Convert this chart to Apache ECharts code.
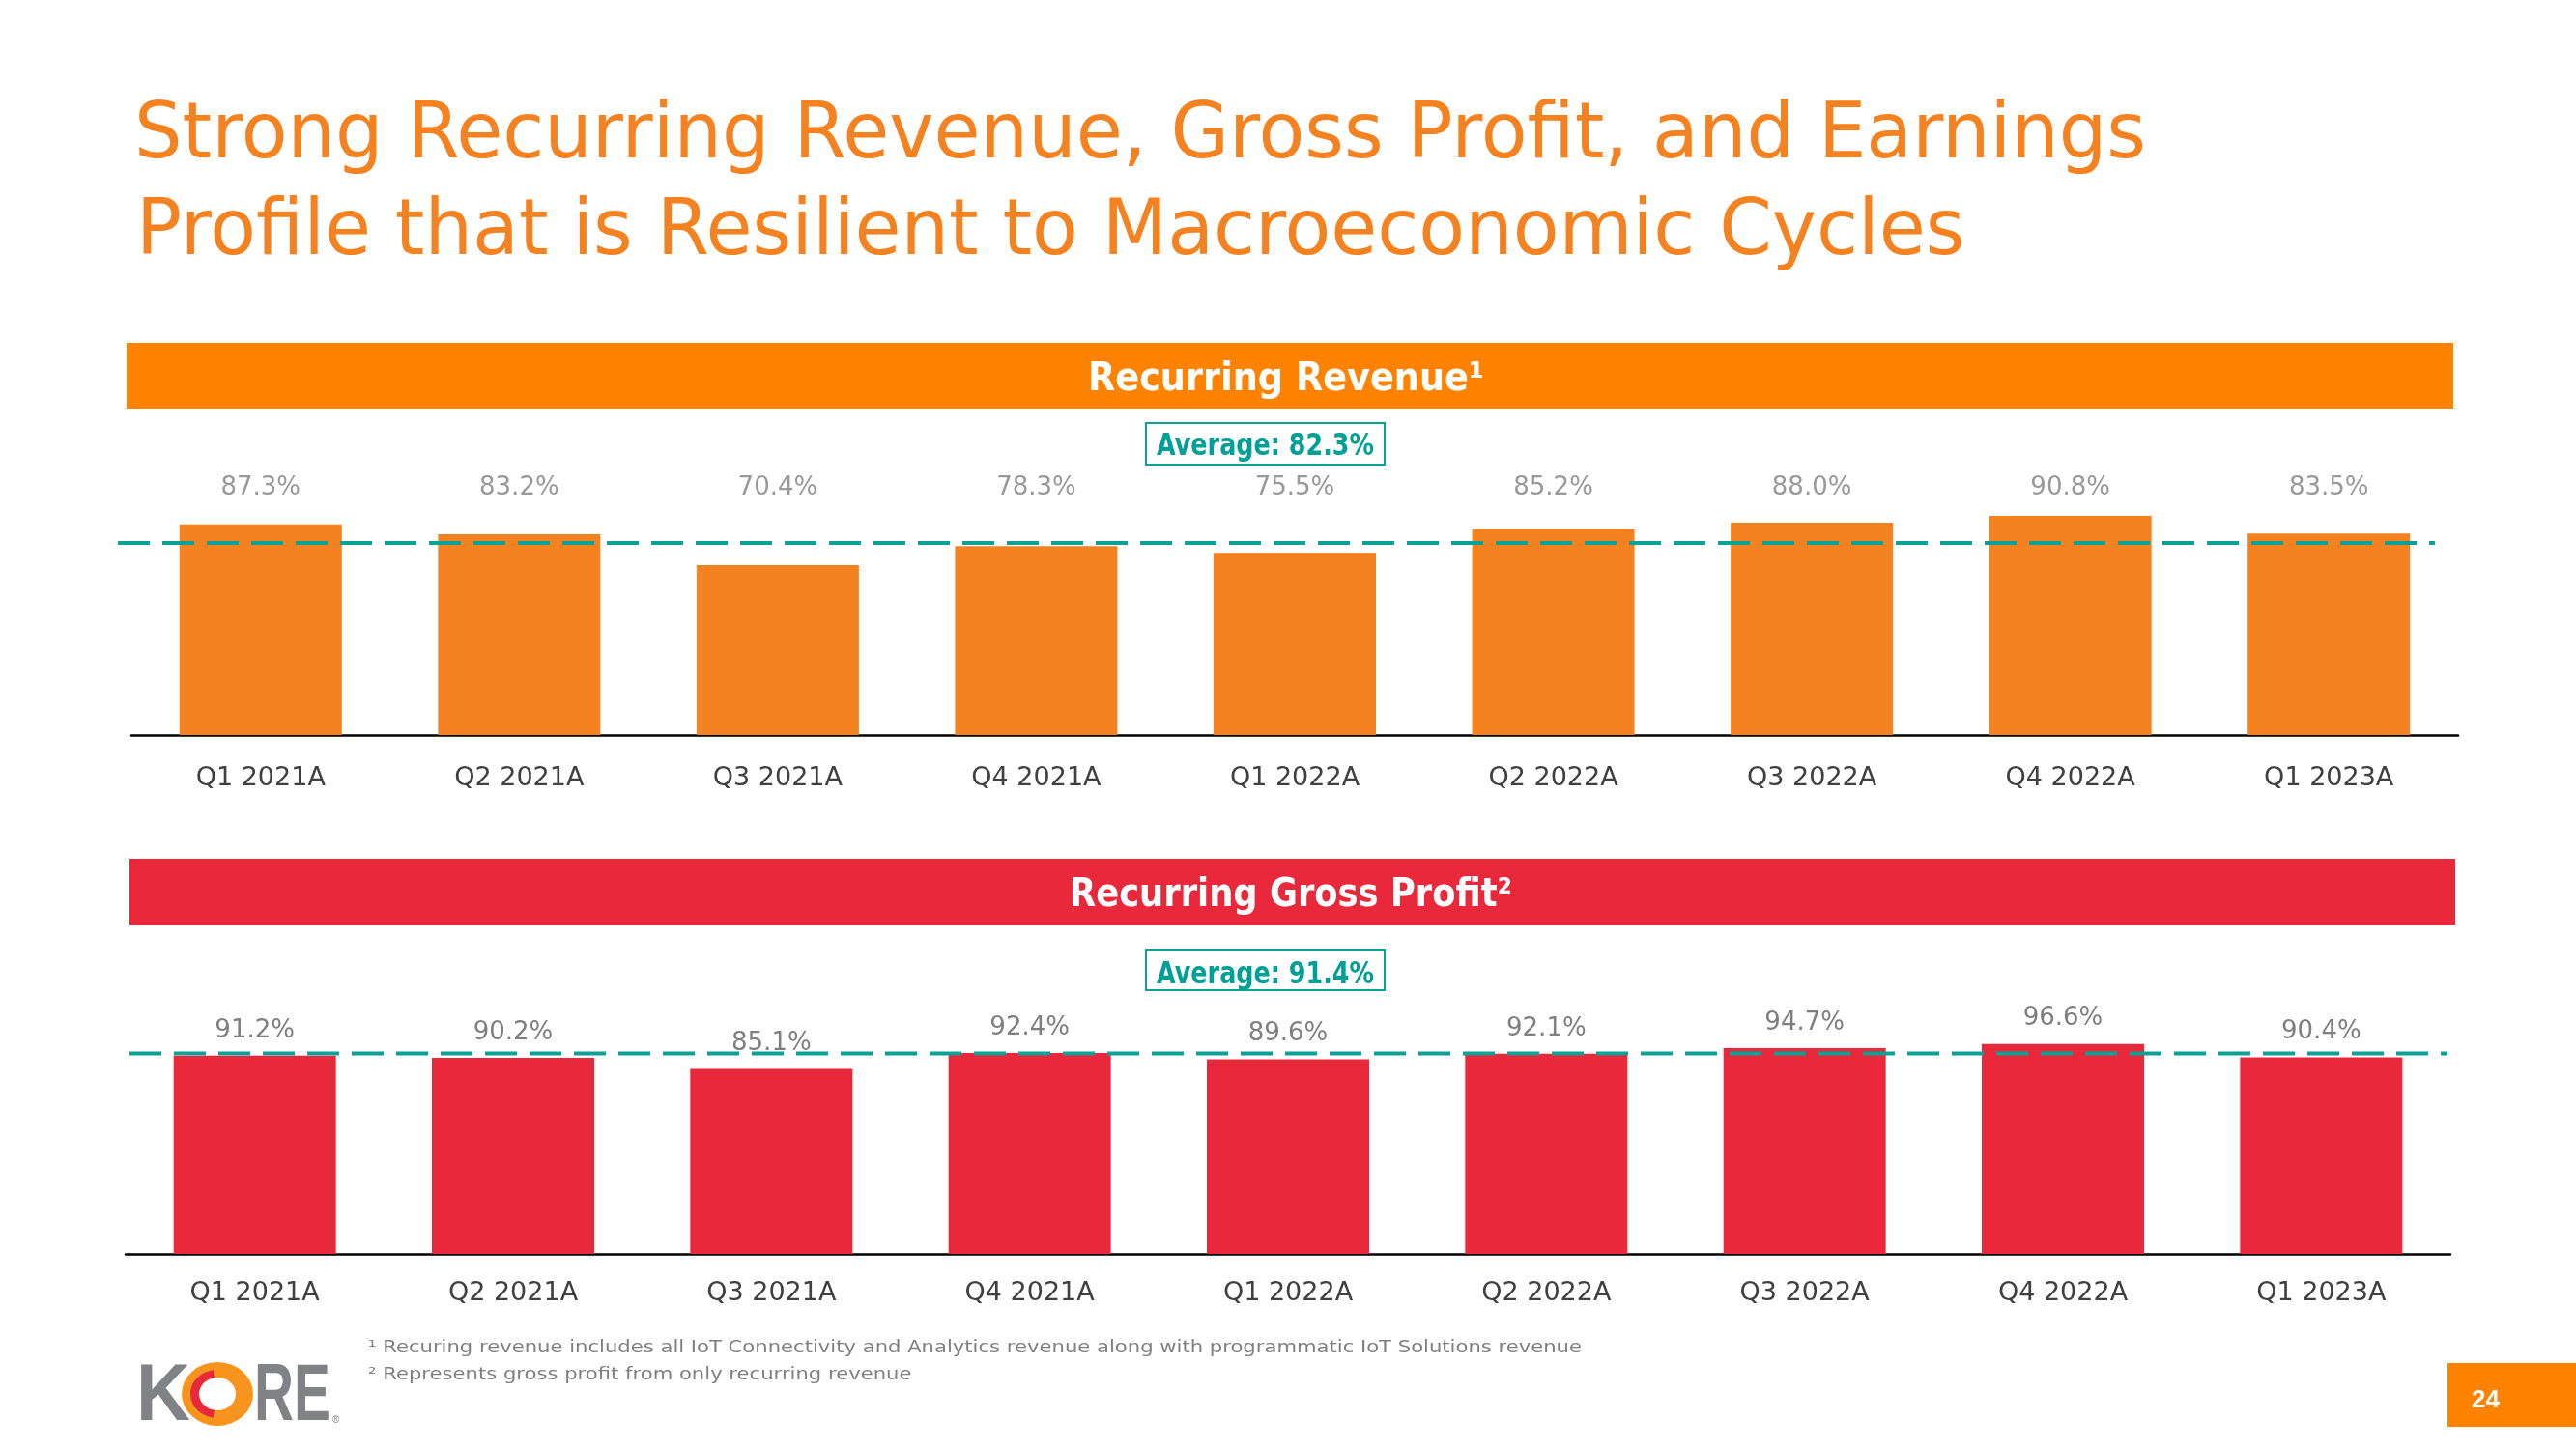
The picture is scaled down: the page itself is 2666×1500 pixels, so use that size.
<!DOCTYPE html>
<html><head><meta charset="utf-8">
<script src="https://cdn.jsdelivr.net/npm/echarts@6/dist/echarts.min.js"></script>
<style>html,body{margin:0;padding:0;background:#fff}#c{width:2666px;height:1500px}</style>
</head><body><div id="c"></div>
<script>
// ---------------- data ----------------
const CATEGORIES = ['Q1 2021A','Q2 2021A','Q3 2021A','Q4 2021A','Q1 2022A','Q2 2022A','Q3 2022A','Q4 2022A','Q1 2023A'];
const REVENUE_PCT = [87.3, 83.2, 70.4, 78.3, 75.5, 85.2, 88.0, 90.8, 83.5];
const GROSS_PROFIT_PCT = [91.2, 90.2, 85.1, 92.4, 89.6, 92.1, 94.7, 96.6, 90.4];
const REVENUE_AVG = 82.3;
const GROSS_PROFIT_AVG = 91.4;
// level of the dashed average line as it is drawn in the picture (bar scale)
const REVENUE_AVG_LINE = 79.6;
const GROSS_PROFIT_AVG_LINE = 92.2;
const TITLE_LINES = ['Strong Recurring Revenue, Gross Profit, and Earnings', 'Profile that is Resilient to Macroeconomic Cycles'];
const PANEL_TITLES = ['Recurring Revenue\u00B9', 'Recurring Gross Profit\u00B2'];
const FOOTNOTES = ['\u00B9 Recuring revenue includes all IoT Connectivity and Analytics revenue along with programmatic IoT Solutions revenue',
                   '\u00B2 Represents gross profit from only recurring revenue'];
const PAGE_NUMBER = '24';

// ---------------- styling helpers ----------------
const FONT = '"DejaVu Sans"';
const ORANGE = '#F58220', HEADER_ORANGE = '#FF8300', RED = '#E9283B', TEAL = '#0BA195', TEAL_TEXT = '#00A096';
const ctx = document.createElement('canvas').getContext('2d');
function measure(text, size, family, weight) {
  ctx.font = (weight || 'normal') + ' ' + size + 'px ' + family;
  return ctx.measureText(text).width;
}
function txt(text, o) {
  const w = measure(text, o.size, o.family || FONT, o.weight);
  const sx = o.scaleX || (o.width ? o.width / w : 1);
  return {
    type: 'text', x: o.x, y: o.y, scaleX: sx, z: 20,
    style: {
      text: text, fontSize: o.size, fontFamily: o.family || FONT, fontWeight: o.weight || 'normal',
      fill: o.color, align: o.align || 'left', verticalAlign: 'middle',
      textAlign: o.align || 'left', textVerticalAlign: 'middle'
    }
  };
}
function scaleFor(text, size, family, weight, width) { return width / measure(text, size, family, weight); }

const VALUE_MAX = 120;
const titleScale = scaleFor(TITLE_LINES[0], 81, FONT, 'normal', 2082);
const fnScale = scaleFor(FOOTNOTES[0], 17, FONT, 'normal', 1256);

const graphics = [
  txt(TITLE_LINES[0], {x: 139, y: 142, size: 81, color: ORANGE, scaleX: titleScale}),
  txt(TITLE_LINES[1], {x: 141, y: 241.5, size: 81, color: ORANGE, scaleX: titleScale}),
  {type: 'rect', shape: {x: 131, y: 355, width: 2408, height: 68}, style: {fill: HEADER_ORANGE}, z: 1},
  {type: 'rect', shape: {x: 134, y: 889, width: 2407, height: 69}, style: {fill: RED}, z: 1},
  txt(PANEL_TITLES[0], {x: 1331, y: 393, size: 41, weight: 'bold', color: '#fff', align: 'center', width: 410}),
  txt(PANEL_TITLES[1], {x: 1336, y: 927, size: 41, weight: 'bold', color: '#fff', align: 'center', width: 458}),
  {type: 'rect', shape: {x: 1186, y: 438, width: 247, height: 43}, style: {fill: 'none', stroke: TEAL, lineWidth: 2}, z: 15},
  {type: 'rect', shape: {x: 1186, y: 983, width: 247, height: 42}, style: {fill: 'none', stroke: TEAL, lineWidth: 2}, z: 15},
  txt('Average: ' + REVENUE_AVG.toFixed(1) + '%', {x: 1309.5, y: 463, size: 32, weight: 'bold', color: TEAL_TEXT, align: 'center', width: 225}),
  txt('Average: ' + GROSS_PROFIT_AVG.toFixed(1) + '%', {x: 1309.5, y: 1010, size: 32, weight: 'bold', color: TEAL_TEXT, align: 'center', width: 225}),
  txt(FOOTNOTES[0], {x: 381, y: 1395.5, size: 17, color: '#7F7F7F', scaleX: fnScale}),
  txt(FOOTNOTES[1], {x: 381, y: 1424, size: 17, color: '#7F7F7F', scaleX: fnScale}),
  // logo
  txt('K', {x: 141, y: 1447, size: 84, weight: 'bold', family: '"Liberation Sans"', color: '#808285', width: 56}),
  {type: 'ring', x: 225, y: 1443, scaleX: 1.12, shape: {cx: 0, cy: 0, r: 33, r0: 17}, style: {fill: '#F7941D'}, z: 20},
  {type: 'sector', x: 225, y: 1443, scaleX: 1.12, shape: {cx: 0, cy: 0, r: 25, r0: 17, startAngle: Math.PI * 0.55, endAngle: Math.PI * 1.45}, style: {fill: '#E8283C'}, z: 21},
  txt('RE', {x: 263, y: 1447, size: 84, weight: 'bold', family: '"Liberation Sans"', color: '#808285', width: 79}),
  txt('\u00AE', {x: 344, y: 1470, size: 10, family: '"Liberation Sans"', color: '#808285'}),
  // page number
  {type: 'rect', shape: {x: 2533, y: 1411, width: 133, height: 66}, style: {fill: HEADER_ORANGE}, z: 1},
  txt(PAGE_NUMBER, {x: 2558, y: 1450, size: 26, weight: 'bold', family: '"Liberation Sans"', color: '#fff'})
];

const catAxis = (grid, margin) => ({
  type: 'category', gridIndex: grid, data: CATEGORIES,
  axisLine: {show: true, lineStyle: {color: '#000', width: 2.5}},
  axisTick: {show: false},
  axisLabel: {fontSize: 27, fontFamily: 'DejaVu Sans', color: '#404040', margin: margin}
});
const hiddenVal = (grid, max) => ({type: 'value', gridIndex: grid, min: 0, max: max, show: false});
const pctLabel = v => v.toFixed(1) + '%';

const option = {
  backgroundColor: '#fff',
  animation: false,
  grid: [
    {left: 136, right: 122, top: 461, height: 300},
    {left: 130, right: 130, top: 1028, height: 270},
    {left: 122, width: 2398, top: 461, height: 300},
    {left: 134, width: 2399, top: 1028, height: 270}
  ],
  xAxis: [catAxis(0, 31), catAxis(1, 27), hiddenVal(2, 1), hiddenVal(3, 1)],
  yAxis: [hiddenVal(0, VALUE_MAX), hiddenVal(1, VALUE_MAX), hiddenVal(2, VALUE_MAX), hiddenVal(3, VALUE_MAX)],
  series: [
    {type: 'bar', xAxisIndex: 0, yAxisIndex: 0, data: REVENUE_PCT, barWidth: 168, itemStyle: {color: ORANGE}},
    {type: 'scatter', xAxisIndex: 0, yAxisIndex: 0, symbolSize: 1, itemStyle: {color: 'rgba(0,0,0,0)'},
      data: REVENUE_PCT.map((v, i) => [i, 102.4]), silent: true,
      label: {show: true, position: 'inside', fontSize: 26, fontFamily: 'DejaVu Sans', color: '#7F7F7F',
        formatter: p => pctLabel(REVENUE_PCT[p.dataIndex])}},
    {type: 'bar', xAxisIndex: 1, yAxisIndex: 1, data: GROSS_PROFIT_PCT, barWidth: 168, itemStyle: {color: RED},
      label: {show: true, position: 'top', distance: 13, fontSize: 26, fontFamily: 'DejaVu Sans', color: '#7F7F7F',
        formatter: p => pctLabel(p.value)}},
    {type: 'line', xAxisIndex: 2, yAxisIndex: 2, z: 10, symbol: 'none', silent: true,
      data: [[0, REVENUE_AVG_LINE], [1, REVENUE_AVG_LINE]],
      lineStyle: {color: TEAL, width: 4, type: [33, 13]}},
    {type: 'line', xAxisIndex: 3, yAxisIndex: 3, z: 10, symbol: 'none', silent: true,
      data: [[0, GROSS_PROFIT_AVG_LINE], [1, GROSS_PROFIT_AVG_LINE]],
      lineStyle: {color: TEAL, width: 4, type: [33, 13]}}
  ],
  graphic: graphics
};
const chart = echarts.init(document.getElementById('c'), null, {renderer: 'canvas'});
chart.setOption(option);
</script>
</body></html>
